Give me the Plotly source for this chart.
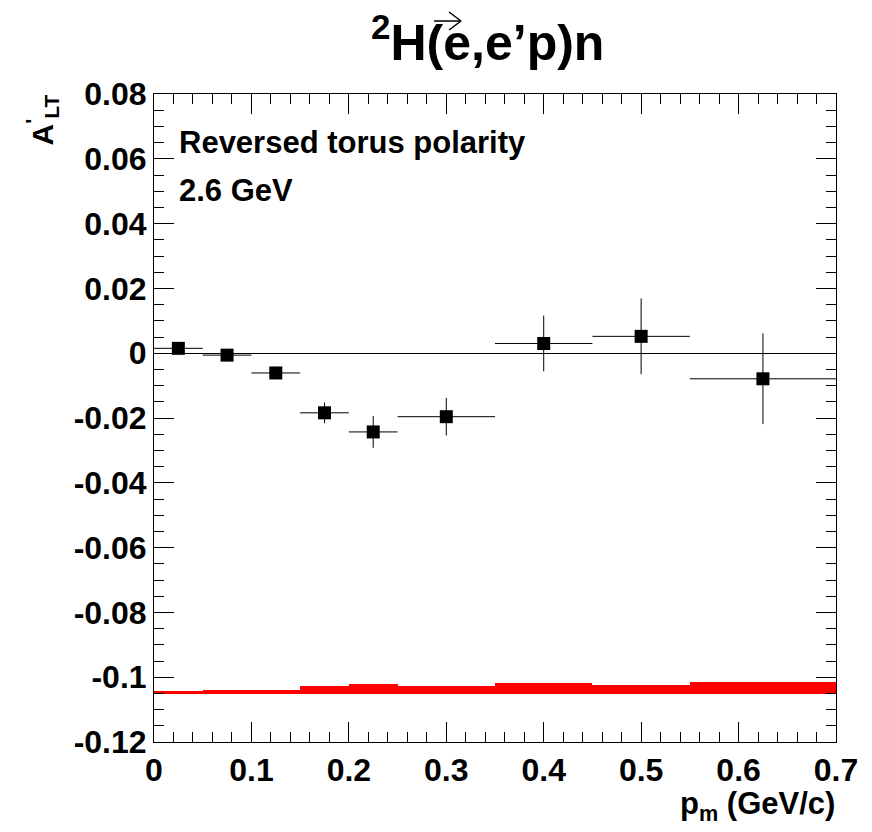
import plotly.graph_objects as go

# ---- data ----
bin_lo = [0.0, 0.05, 0.10, 0.15, 0.20, 0.25, 0.35, 0.45, 0.55]
bin_hi = [0.05, 0.10, 0.15, 0.20, 0.25, 0.35, 0.45, 0.55, 0.70]
pm_center = [0.025, 0.075, 0.125, 0.175, 0.225, 0.30, 0.40, 0.50, 0.625]
alt_values = [0.0015, -0.0006, -0.0061, -0.0184, -0.0243, -0.0196, 0.0030, 0.0052, -0.0079]
alt_errors = [0.0012, 0.0012, 0.0015, 0.0032, 0.0049, 0.0058, 0.0086, 0.0117, 0.0140]
sys_low = [-0.1052, -0.1052, -0.1052, -0.1052, -0.1052, -0.1052, -0.1052, -0.1052, -0.1052]
sys_high = [-0.1044, -0.1040, -0.1038, -0.1028, -0.1022, -0.1026, -0.1019, -0.1023, -0.1015]

x_ticks = [0, 0.1, 0.2, 0.3, 0.4, 0.5, 0.6, 0.7]
x_ticklabels = ["0", "0.1", "0.2", "0.3", "0.4", "0.5", "0.6", "0.7"]
y_ticks = [-0.12, -0.10, -0.08, -0.06, -0.04, -0.02, 0, 0.02, 0.04, 0.06, 0.08]
y_ticklabels = ["-0.12", "-0.1", "-0.08", "-0.06", "-0.04", "-0.02", "0", "0.02", "0.04", "0.06", "0.08"]

FONT = "Liberation Sans, Arial, Helvetica, sans-serif"

half_w = [(h - l) / 2 for l, h in zip(bin_lo, bin_hi)]
widths = [(h - l) for l, h in zip(bin_lo, bin_hi)]
mids = [(h + l) / 2 for l, h in zip(bin_lo, bin_hi)]
heights = [h - l for l, h in zip(sys_low, sys_high)]

fig = go.Figure()

fig.add_trace(go.Bar(
    x=mids, y=heights, base=sys_low, width=widths,
    marker=dict(color="#ff0000", line=dict(width=0)),
    showlegend=False, hoverinfo="skip",
))

fig.add_trace(go.Scatter(
    x=pm_center, y=alt_values, mode="markers",
    marker=dict(symbol="square", size=13, color="black"),
    error_x=dict(type="data", array=half_w, color="black", thickness=1, width=0),
    error_y=dict(type="data", array=alt_errors, color="black", thickness=1, width=0),
    showlegend=False,
))

axis_common = dict(
    showline=True, linecolor="black", linewidth=1, mirror="allticks",
    ticks="inside", ticklen=20, tickwidth=1, tickcolor="black",
    showgrid=False,
    tickfont=dict(family=FONT, size=32, color="black", weight="bold"),
)

fig.update_xaxes(
    range=[0, 0.7], tickvals=x_ticks, ticktext=x_ticklabels,
    minor=dict(dtick=0.02, ticklen=10, ticks="inside", tickcolor="black", showgrid=False),
    zeroline=False, **axis_common,
)
fig.update_yaxes(
    range=[-0.12, 0.08], tickvals=y_ticks, ticktext=y_ticklabels,
    minor=dict(dtick=0.005, ticklen=10, ticks="inside", tickcolor="black", showgrid=False),
    zeroline=True, zerolinecolor="black", zerolinewidth=1, **axis_common,
)

# plot area in page px: x 154..836, y 94..742 (page has an 8px body offset)
def px(xp):
    return (xp - 154) / 682.0

def py(yp):
    return (742 - yp) / 648.0

annots = [
    dict(text="<sup>2</sup>H(e,e\u2019p)n", x=px(606), y=py(39), xanchor="right", yanchor="middle",
         font=dict(family=FONT, size=50, color="black", weight="bold")),
    dict(text="Reversed torus polarity", x=px(177), y=py(142), xanchor="left", yanchor="middle",
         font=dict(family=FONT, size=31, color="black", weight="bold")),
    dict(text="2.6 GeV", x=px(177), y=py(190), xanchor="left", yanchor="middle",
         font=dict(family=FONT, size=31, color="black", weight="bold")),
    dict(text="p<sub>m</sub> (GeV/c)", x=px(837), y=py(806), xanchor="right", yanchor="middle",
         font=dict(family=FONT, size=31, color="black", weight="bold")),
    dict(text="A<sup>'</sup><sub>LT</sub>", x=px(42), y=py(93), xanchor="center", yanchor="top",
         textangle=-90, font=dict(family=FONT, size=30, color="black", weight="bold")),
]
for a in annots:
    a.update(xref="paper", yref="paper", showarrow=False)

shapes = [
    dict(type="line", x0=px(434), y0=py(21), x1=px(461), y1=py(21)),
    dict(type="line", x0=px(449), y0=py(12), x1=px(461), y1=py(21)),
    dict(type="line", x0=px(449), y0=py(30), x1=px(461), y1=py(21)),
]
for s in shapes:
    s.update(xref="paper", yref="paper", line=dict(color="black", width=1.5))

fig.update_layout(
    width=872, height=832,
    margin=dict(l=146, r=44, t=86, b=98),
    paper_bgcolor="white", plot_bgcolor="white",
    barmode="overlay", bargap=0,
    annotations=annots, shapes=shapes,
    showlegend=False,
)

fig.write_html("out.html")
